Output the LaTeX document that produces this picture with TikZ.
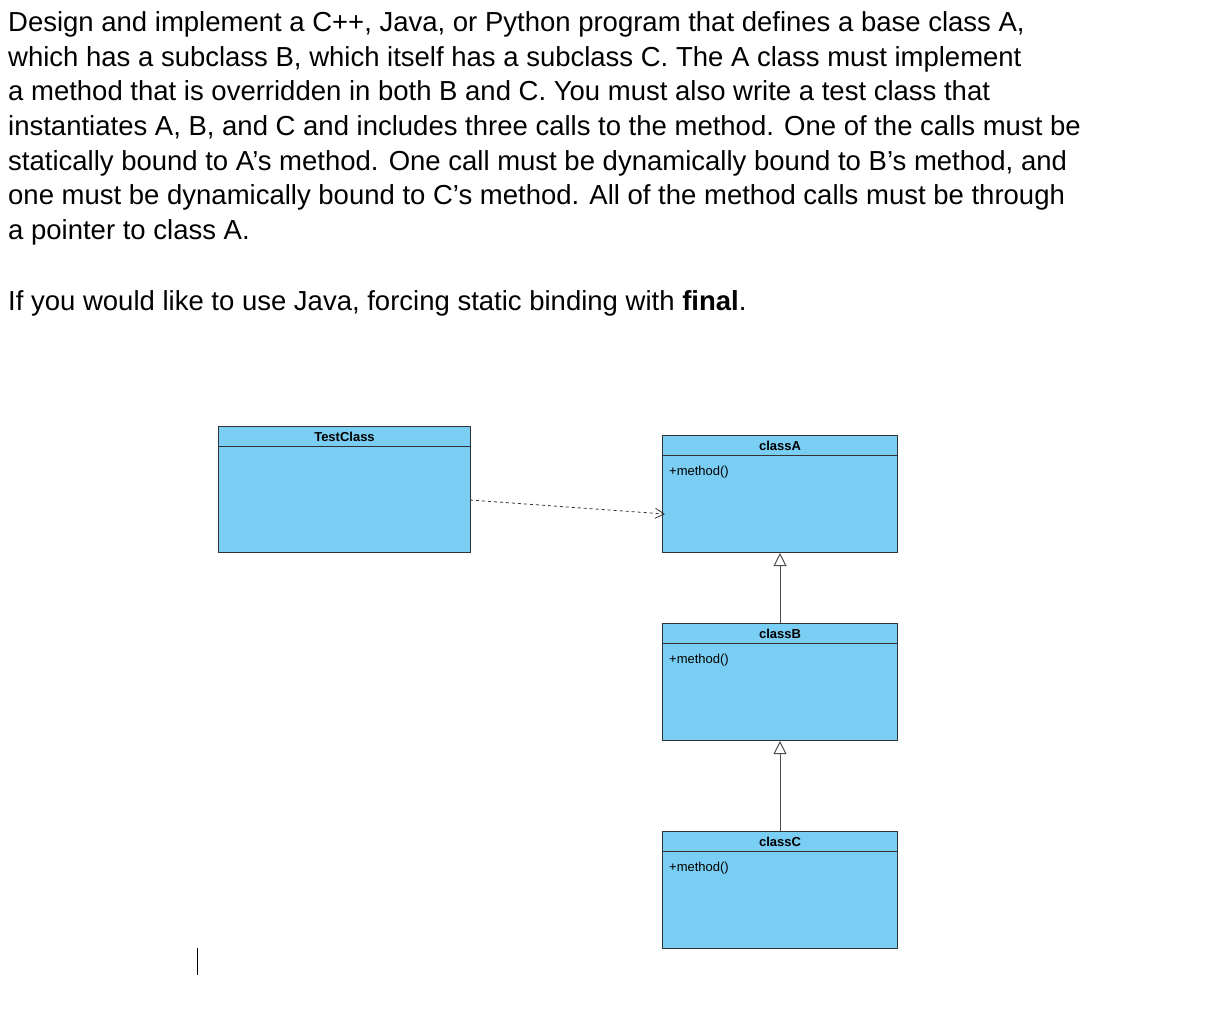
\documentclass[tikz,border=0pt]{standalone}
\usepackage{fontspec}
\setmainfont{Liberation Sans}
\usetikzlibrary{arrows.meta}
\definecolor{boxblue}{HTML}{7ACEF4}
\begin{document}
\begin{tikzpicture}[x=1pt,y=-1pt,
  txt/.style={anchor=base west,inner sep=0pt,font=\fontsize{27.5}{30}\selectfont},
  body/.style={draw=black!80,fill=boxblue,anchor=north west,inner sep=0pt,line width=1pt},
  head/.style={draw=black!80,fill=boxblue,anchor=north west,inner sep=0pt,line width=1pt,font=\fontsize{13}{14}\selectfont\bfseries},
  meth/.style={anchor=base west,inner sep=0pt,font=\fontsize{13}{14}\selectfont}]
\useasboundingbox (0,0) rectangle (1209,1021);
\node[txt] (l1) at (8,31) {Design and implement a C++, Java, or Python program that defines a base class A,};
\node[txt] (l2) at (8,66) {which has a subclass B, which itself has a subclass C. The A class must implement};
\node[txt] (l3) at (8,100) {a method that is overridden in both B and C. You must also write a test class that};
\node[txt] (l4) at (8,135) {instantiates A, B, and C and includes three calls to the method. One of the calls must be};
\node[txt] (l5) at (8,170) {statically bound to A’s method. One call must be dynamically bound to B’s method, and};
\node[txt] (l6) at (8,204) {one must be dynamically bound to C’s method. All of the method calls must be through};
\node[txt] (l7) at (8,239) {a pointer to class A.};
\node[txt] (l8) at (8,310) {If you would like to use Java, forcing static binding with \textbf{final}.};
% TestClass
\node[body,minimum width=252,minimum height=126] (tb) at (218,426) {};
\node[head,minimum width=252,minimum height=20] (th) at (218,426) {TestClass};
% classA
\node[body,minimum width=235,minimum height=117] (ab) at (662,435) {};
\node[head,minimum width=235,minimum height=20] (ah) at (662,435) {classA};
\node[meth] (am) at (669,475) {+method()};
% classB
\node[body,minimum width=235,minimum height=117] (bb) at (662,623) {};
\node[head,minimum width=235,minimum height=20] (bh) at (662,623) {classB};
\node[meth] (bm) at (669,663) {+method()};
% classC
\node[body,minimum width=235,minimum height=117] (cb) at (662,831) {};
\node[head,minimum width=235,minimum height=20] (ch) at (662,831) {classC};
\node[meth] (cm) at (669,871) {+method()};
% connectors
\coordinate (ds) at (470,500);
\coordinate (de) at (665,514);
\draw[dashed,black!80,line width=0.8pt,-{Straight Barb[length=9pt,width=10pt]}] (ds) -- (de);
\draw[black!70,line width=1pt,-{Triangle[open,length=13pt,width=13pt]}] (bh.north) -- (ab.south);
\draw[black!70,line width=1pt,-{Triangle[open,length=13pt,width=13pt]}] (ch.north) -- (bb.south);
\coordinate (cu1) at (197,948);
\coordinate (cu2) at (197,975);
\draw[line width=1pt] (cu1) -- (cu2);
\end{tikzpicture}
\end{document}
